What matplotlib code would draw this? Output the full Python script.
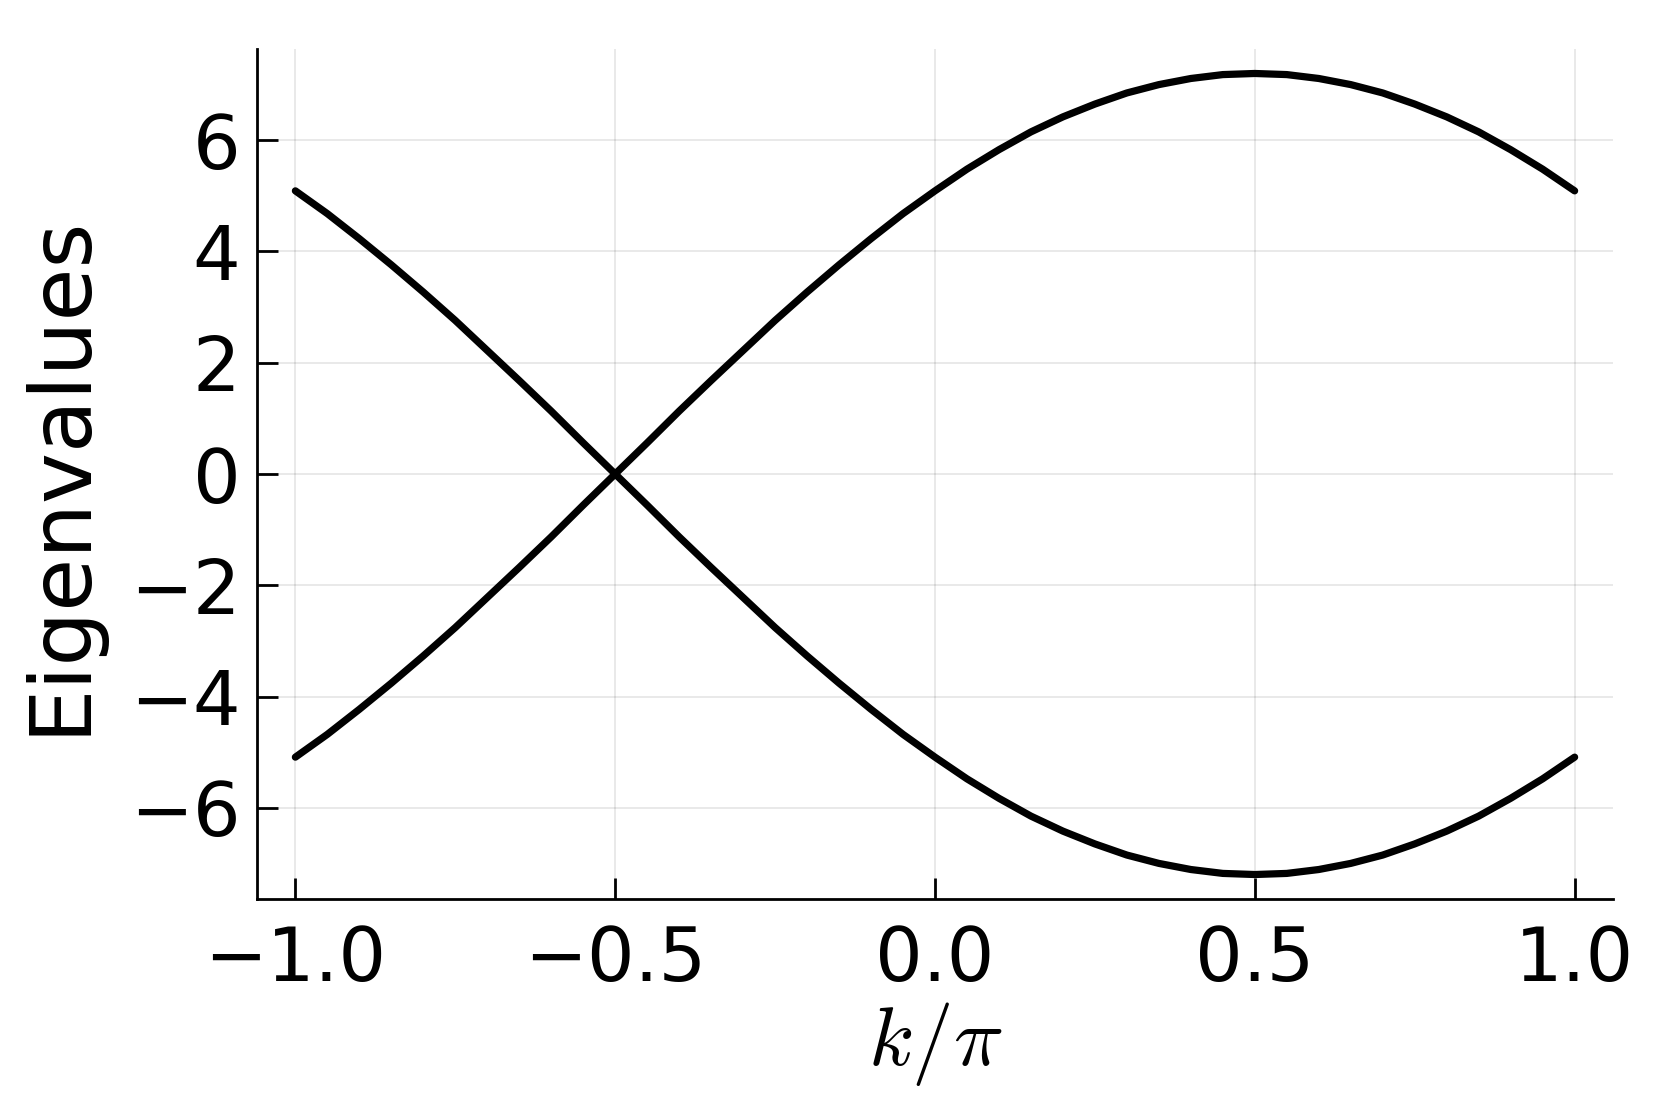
import matplotlib
matplotlib.use("Agg")
import matplotlib.pyplot as plt

# k/pi samples and the two bands
k = [-1.0, -0.95, -0.9, -0.85, -0.8, -0.75, -0.7, -0.65, -0.6, -0.55, -0.5,
     -0.45, -0.4, -0.35, -0.3, -0.25, -0.2, -0.15, -0.1, -0.05, 0.0,
     0.05, 0.1, 0.15, 0.2, 0.25, 0.3, 0.35, 0.4, 0.45, 0.5,
     0.55, 0.6, 0.65, 0.7, 0.75, 0.8, 0.85, 0.9, 0.95, 1.0]
band_up = [-5.09, -4.68, -4.23, -3.76, -3.27, -2.76, -2.22, -1.68, -1.13, -0.56, 0.0,
           0.56, 1.13, 1.68, 2.22, 2.76, 3.27, 3.76, 4.23, 4.68, 5.09,
           5.48, 5.83, 6.15, 6.42, 6.65, 6.85, 7.00, 7.11, 7.18, 7.20,
           7.18, 7.11, 7.00, 6.85, 6.65, 6.42, 6.15, 5.83, 5.48, 5.09]
band_down = [-v for v in band_up]

xticks = [-1.0, -0.5, 0.0, 0.5, 1.0]
yticks = [-6, -4, -2, 0, 2, 4, 6]

plt.rcParams["mathtext.fontset"] = "cm"

fig = plt.figure(figsize=(16.61, 11.09), dpi=100)
ax = fig.add_axes([257 / 1661, 1 - 899 / 1109, (1613 - 257) / 1661, (899 - 49) / 1109])

for band in (band_up, band_down):
    ax.plot(k, band, color="black", linewidth=5.2, solid_capstyle="round",
            solid_joinstyle="round")

ax.set_xlim(-1.06, 1.06)
ax.set_ylim(-7.64, 7.64)
ax.set_xticks(xticks)
ax.set_yticks(yticks)
ax.set_xticklabels([f"{t:.1f}".replace("-", "\u2212") for t in xticks])
ax.set_yticklabels([str(t).replace("-", "\u2212") for t in yticks])

ax.grid(True, color="black", alpha=0.1, linewidth=1.2)
for side in ("top", "right"):
    ax.spines[side].set_visible(False)
for side in ("left", "bottom"):
    ax.spines[side].set_linewidth(2.0)
ax.tick_params(direction="in", length=15, width=2.0, labelsize=54)
ax.tick_params(axis="x", pad=18)
ax.tick_params(axis="y", pad=12)

ax.set_ylabel("Eigenvalues", fontsize=62, labelpad=20)
ax.set_xlabel(r"$k/\pi$", fontsize=60, labelpad=2)

fig.savefig("out.png", dpi=100)
